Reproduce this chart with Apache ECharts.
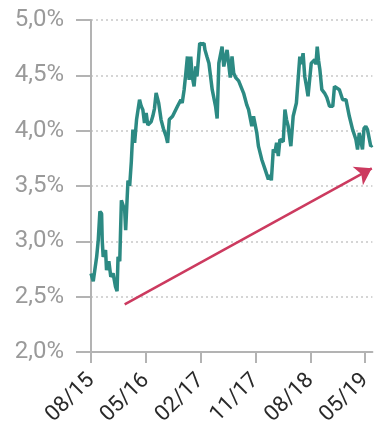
<!DOCTYPE html>
<html>
<head>
<meta charset="utf-8">
<script src="https://cdn.jsdelivr.net/npm/echarts@6/dist/echarts.min.js"></script>
<style>html,body{margin:0;padding:0;background:#fff}#c{width:375px;height:435px}</style>
</head>
<body>
<div id="c"></div>
<script>
// months since 08/2015
var months = [0.0,0.37,0.93,1.19,1.46,1.74,1.84,2.00,2.39,2.55,2.93,3.25,3.63,4.02,4.28,4.44,4.72,4.99,5.21,5.53,5.69,6.07,6.35,6.62,6.88,7.16,7.48,7.97,8.25,8.51,8.78,9.06,9.33,9.60,9.87,10.14,10.42,10.69,11.11,11.50,11.88,12.32,12.58,12.85,13.39,13.67,14.20,14.76,14.97,15.29,15.57,15.83,16.11,16.38,16.59,16.92,17.20,17.40,17.62,17.85,18.22,18.55,18.71,19.03,19.36,19.90,20.45,20.71,20.99,21.52,21.80,22.04,22.34,22.61,22.86,23.15,23.43,23.75,24.24,25.05,25.59,25.87,26.14,26.40,26.68,26.96,27.22,27.49,28.03,28.58,29.12,29.40,29.61,29.93,30.18,30.47,30.75,31.02,31.28,31.56,31.84,32.10,32.37,32.81,33.19,33.72,34.00,34.28,34.49,34.82,35.09,35.38,35.63,36.16,36.72,36.93,37.14,37.37,37.58,37.90,38.34,38.72,39.16,39.69,39.97,40.23,40.78,41.32,41.86,42.41,42.95,43.49,43.76,44.04,44.30,44.57,44.82,45.11,45.39,45.66,45.92,46.20];
var yields = [2.71,2.64,2.86,3.01,3.27,3.25,3.01,2.86,2.92,2.74,2.82,2.68,2.71,2.59,2.55,2.86,2.82,3.37,3.37,3.28,3.10,3.55,3.50,3.72,4.01,3.89,4.10,4.28,4.22,4.19,4.07,4.16,4.05,4.04,4.08,4.13,4.20,4.34,4.25,4.10,4.02,3.95,3.89,4.10,4.13,4.14,4.22,4.28,4.25,4.37,4.52,4.67,4.46,4.67,4.50,4.40,4.58,4.49,4.49,4.79,4.78,4.79,4.73,4.67,4.61,4.37,4.22,4.11,4.61,4.76,4.58,4.65,4.73,4.60,4.48,4.67,4.52,4.48,4.45,4.34,4.23,4.19,4.19,4.04,4.13,4.13,3.98,3.86,3.74,3.65,3.56,3.60,3.55,3.83,3.80,3.89,3.77,3.92,3.93,3.90,4.19,4.10,4.04,3.86,4.13,4.25,4.24,4.67,4.60,4.70,4.49,4.40,4.31,4.61,4.64,4.60,4.76,4.63,4.55,4.37,4.34,4.30,4.22,4.22,4.40,4.40,4.37,4.28,4.28,4.13,4.01,3.92,3.83,3.98,3.98,3.83,4.02,4.04,4.01,4.01,3.86,3.87];
var xTickLabels = ['08/15','05/16','02/17','11/17','08/18','05/19'];
var yTicks = [2.0,2.5,3.0,3.5,4.0,4.5,5.0];
// trend arrow: [month, yield] start and end
var arrowStart = [5.53, 2.43];
var arrowEnd = [46.1, 3.66];

var chart = echarts.init(document.getElementById('c'), null, {renderer:'canvas'});
var gray = '#b3b3b3';
chart.setOption({
  animation:false,
  grid:{left:91, right:0, top:20, bottom:83, containLabel:false},
  xAxis:{
    type:'value', min:0, max:46.2, interval:9,
    axisLine:{show:true, lineStyle:{color:gray, width:2}},
    axisTick:{show:true, length:11, lineStyle:{color:gray, width:2}},
    splitLine:{show:false},
    axisLabel:{
      rotate:45, margin:25, color:'#2a2a2a', fontSize:22, fontFamily:'Roboto',
      showMaxLabel:false,
      formatter:function(v){var i=Math.round(v/9); return (Math.abs(v-i*9)<1e-6 && xTickLabels[i])?xTickLabels[i]:'';}
    }
  },
  yAxis:{
    type:'value', min:yTicks[0], max:yTicks[yTicks.length-1], interval:0.5,
    axisLine:{show:true, lineStyle:{color:gray, width:2}},
    axisTick:{show:true, length:15, lineStyle:{color:gray, width:2}},
    splitLine:{show:true, lineStyle:{color:'#c8c8c8', type:[2,3], width:1.5}},
    axisLabel:{margin:27, color:'#9a9a9a', fontSize:24, fontFamily:'Roboto',
      formatter:function(v){return v.toFixed(1).replace('.',',')+'%';}}
  },
  series:[
    {type:'line', data:months.map(function(m,i){return [m,yields[i]];}),
     showSymbol:false, symbol:'none', lineStyle:{color:'#2c8a83', width:3.5}, clip:false, z:3},
    {type:'line', data:[], clip:false, z:4,
     markLine:{silent:true, symbol:['none','arrow'], symbolSize:16, label:{show:false},
       lineStyle:{color:'#cc3a5f', width:2.5, type:'solid'},
       data:[[{coord:arrowStart},{coord:arrowEnd}]]}}
  ]
});
</script>
</body>
</html>
